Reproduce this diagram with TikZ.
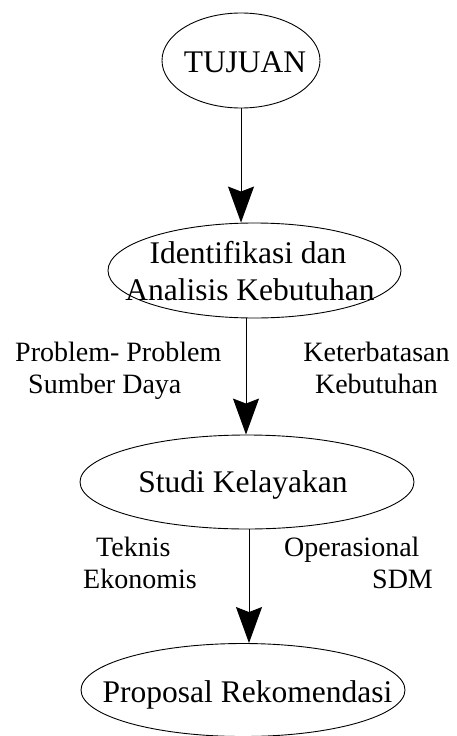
\documentclass[tikz,border=0pt]{standalone}
\usepackage{fontspec}
\setmainfont{Liberation Serif}
\usetikzlibrary{shapes.geometric,arrows.meta}
\begin{document}
\begin{tikzpicture}[x=1pt,y=-1pt,
  stage/.style={draw, ellipse, line width=0.9pt, inner sep=0pt},
  stagetext/.style={inner sep=0pt, anchor=base, font=\fontsize{31.5}{36}\selectfont},
  note/.style={inner sep=0pt, font=\fontsize{28}{32}\selectfont},
  flow/.style={line width=0.9pt, -{Stealth[length=36pt,width=26pt,inset=5pt]}}]
\useasboundingbox (0,0) rectangle (456,736);

% stages
\node[stage, minimum width=158, minimum height=95] (tujuan) at (241,60.5) {};
\node[stage, minimum width=293, minimum height=95] (ident) at (254.5,270.5) {};
\node[stage, minimum width=334, minimum height=94] (studi) at (247,482) {};
\node[stage, minimum width=324, minimum height=93] (proposal) at (243,690) {};

% stage captions
\node[stagetext] (tTujuan) at (245,72) {TUJUAN};
\node[stagetext] (tIdent1) at (248,263) {Identifikasi dan};
\node[stagetext] (tIdent2) at (250,300.5) {Analisis Kebutuhan};
\node[stagetext] (tStudi) at (243,492) {Studi Kelayakan};
\node[stagetext] (tProposal) at (247.5,702) {Proposal Rekomendasi};

% flow between stages
\draw[flow] (tujuan.south) -- (tujuan.south |- ident.north);
\draw[flow] ([xshift=-8.5pt]ident.south) -- ([xshift=-8.5pt]ident.south |- studi.north);
\draw[flow] ([xshift=2pt]studi.south) -- ([xshift=2pt]studi.south |- proposal.north);

% side notes
\node[note, anchor=base west] (nProb1) at (15,361) {Problem- Problem};
\node[note, anchor=base west] (nProb2) at (28,393) {Sumber Daya};
\node[note, anchor=base] (nKet1) at (376.5,361) {Keterbatasan};
\node[note, anchor=base] (nKet2) at (376.5,393) {Kebutuhan};
\node[note, anchor=base west] (nTek) at (96,556) {Teknis};
\node[note, anchor=base west] (nEko) at (83,588) {Ekonomis};
\node[note, anchor=base west] (nOps) at (284,556) {Operasional};
\node[note, anchor=base west] (nSdm) at (372,588) {SDM};
\end{tikzpicture}
\end{document}
